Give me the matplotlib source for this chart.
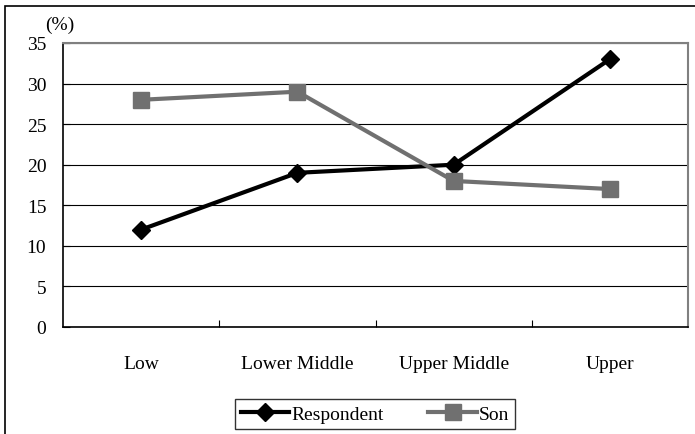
import matplotlib
matplotlib.use('Agg')
import matplotlib.pyplot as plt
from matplotlib.patches import Rectangle

categories = ['Low', 'Lower Middle', 'Upper Middle', 'Upper']
respondent = [12, 19, 20, 33]
son = [28, 29, 18, 17]
yticks = [0, 5, 10, 15, 20, 25, 30, 35]

plt.rcParams['font.family'] = ['Liberation Serif', 'DejaVu Serif']

fig = plt.figure(figsize=(6.95, 4.35), dpi=100)
# outer frame (cropped on right and bottom in the reference)
fig.patches.append(Rectangle((5/695, -0.1), 1.2, 1 - 7/435 + 0.1, transform=fig.transFigure,
                             fill=False, edgecolor='black', linewidth=1.2))

ax = fig.add_axes([63/695, 1 - 328/435, 625/695, 284/435])
x = list(range(len(categories)))
ax.plot(x, respondent, color='black', linewidth=3, marker='D', markersize=9, label='Respondent')
ax.plot(x, son, color='#707070', linewidth=3, marker='s', markersize=11, label='Son')

ax.set_xlim(-0.5, 3.5)
ax.set_ylim(0, 35)
ax.set_yticks(yticks)
ax.yaxis.grid(True, color='black', linewidth=0.8)
ax.set_axisbelow(True)
ax.set_xticks([0.5, 1.5, 2.5])
ax.set_xticklabels([])
ax.set_xticks(x, minor=True)
ax.set_xticklabels(categories, minor=True, fontsize=14)
ax.tick_params(axis='x', which='minor', length=0, pad=20)
ax.tick_params(axis='x', which='major', direction='in', length=5)
ax.tick_params(axis='y', direction='in', length=5, labelsize=14, pad=12)
ax.spines['top'].set_color('#808080')
ax.spines['right'].set_color('#808080')
ax.spines['top'].set_linewidth(1.5)
ax.spines['right'].set_linewidth(1.5)
ax.spines['left'].set_linewidth(1.2)
ax.spines['bottom'].set_linewidth(1.2)
fig.text(45/695, 1 - 25/435, '(%)', fontsize=14, va='center', ha='left')

leg = fig.legend(loc='center', bbox_to_anchor=(375/695, 1 - 415/435), ncol=2, fontsize=14,
                 frameon=True, fancybox=False, edgecolor='black', handlelength=2.5,
                 handletextpad=0.1, columnspacing=2.3, borderpad=0.3)
leg.get_frame().set_linewidth(1.0)

fig.savefig('out.png', dpi=100)
